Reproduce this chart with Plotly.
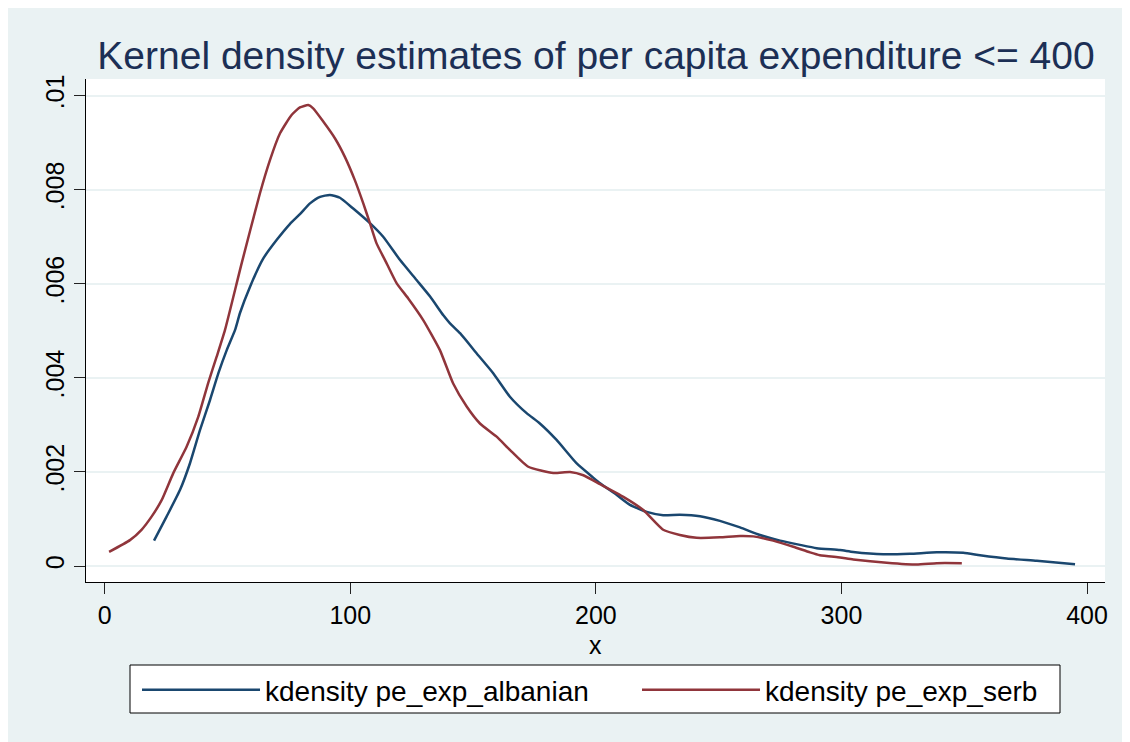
import plotly.graph_objects as go

# Albanian per-capita expenditure kernel density
alb_x = [20.1, 25.2, 30.7, 34.7, 38.8, 42.9, 46.3, 49.7, 53.1, 55.1, 59.2, 64.6, 70.0, 75.4,
         79.5, 83.6, 87.7, 91.7, 95.8, 101.2, 108.0, 113.4, 120.2, 127.0, 132.5, 137.9, 140.6,
         144.7, 151.5, 158.2, 165.0, 171.8, 177.2, 184.0, 192.2, 198.9, 201.7, 208.5, 213.9,
         220.7, 227.4, 234.2, 242.4, 250.5, 258.7, 266.8, 275.0, 283.1, 289.9, 299.4, 304.8,
         317.0, 327.9, 338.8, 349.6, 356.4, 367.3, 379.5, 395.1]
alb_y = [0.00054, 0.00105, 0.00162, 0.00218, 0.00289, 0.00353, 0.00410, 0.00459, 0.00502,
         0.00538, 0.00594, 0.00654, 0.00693, 0.00727, 0.00748, 0.00771, 0.00785, 0.00789,
         0.00783, 0.00760, 0.00729, 0.00700, 0.00651, 0.00608, 0.00573, 0.00533, 0.00516,
         0.00495, 0.00452, 0.00410, 0.00360, 0.00325, 0.00303, 0.00268, 0.00218, 0.00188,
         0.00176, 0.00151, 0.00130, 0.00115, 0.00108, 0.00109, 0.00106, 0.00096, 0.00082,
         0.00066, 0.00054, 0.00045, 0.00038, 0.00034, 0.00030, 0.00025, 0.00026, 0.00029,
         0.00028, 0.00023, 0.00016, 0.00011, 0.00004]

# Serb per-capita expenditure kernel density
srb_x = [1.8, 10.3, 15.0, 19.1, 23.2, 27.9, 33.4, 38.1, 42.2, 45.6, 49.0, 55.8, 63.2, 67.3,
         71.4, 76.1, 79.5, 82.9, 84.9, 89.0, 93.8, 97.8, 101.9, 105.3, 108.0, 110.7, 114.1,
         118.9, 123.6, 129.7, 136.5, 141.9, 147.4, 152.8, 159.6, 165.0, 172.5, 182.7, 189.5,
         194.9, 201.7, 211.2, 219.3, 227.4, 234.2, 241.0, 250.5, 258.7, 264.1, 272.2, 280.4,
         287.2, 291.2, 299.4, 304.8, 318.4, 330.6, 338.8, 349.0]
srb_y = [0.00030, 0.00055, 0.00077, 0.00105, 0.00140, 0.00197, 0.00254, 0.00317, 0.00390,
         0.00445, 0.00502, 0.00644, 0.00792, 0.00863, 0.00920, 0.00959, 0.00975, 0.00980,
         0.00973, 0.00945, 0.00909, 0.00870, 0.00820, 0.00771, 0.00729, 0.00686, 0.00651,
         0.00601, 0.00569, 0.00523, 0.00459, 0.00388, 0.00339, 0.00303, 0.00275, 0.00247,
         0.00211, 0.00198, 0.00200, 0.00193, 0.00174, 0.00147, 0.00119, 0.00077, 0.00066,
         0.00060, 0.00061, 0.00064, 0.00063, 0.00054, 0.00041, 0.00029, 0.00023, 0.00018,
         0.00014, 0.00007, 0.00003, 0.00006, 0.00006]

x_ticks = [0, 100, 200, 300, 400]
y_ticks = [0, 0.002, 0.004, 0.006, 0.008, 0.01]
y_tick_labels = ["0", ".002", ".004", ".006", ".008", ".01"]
x_title = "x"

BG = "#EAF2F3"
FONT = "Arial, Liberation Sans, sans-serif"

fig = go.Figure()
fig.add_trace(go.Scatter(x=alb_x, y=alb_y, mode="lines", name="kdensity pe_exp_albanian",
                         line=dict(color="#1A476F", width=2.5, shape="spline", smoothing=0.5),
                         legend="legend"))
fig.add_trace(go.Scatter(x=srb_x, y=srb_y, mode="lines", name="kdensity pe_exp_serb",
                         line=dict(color="#90353B", width=2.5, shape="spline", smoothing=0.5),
                         legend="legend2"))

# page body has an 8px margin, so figure coords = screen coords - 8
W, H = 1122, 734
L, T = 78, 71
R = W - (1105 - 8)
B = H - (582 - 8)
pw, ph = W - L - R, H - T - B


def px(xf):
    return (xf - L) / pw


def py(yf):
    return (H - B - yf) / ph


legend_common = dict(orientation="h", xanchor="left", yanchor="top",
                     bgcolor="rgba(0,0,0,0)", borderwidth=0,
                     font=dict(size=28, family=FONT, color="black"), itemwidth=118)

fig.update_layout(
    width=W, height=H,
    showlegend=True,
    margin=dict(l=L, r=R, t=T, b=B, pad=0, autoexpand=False),
    paper_bgcolor=BG,
    plot_bgcolor="white",
    font=dict(family=FONT, color="black"),
    title=dict(text="Kernel density estimates of per capita expenditure <= 400",
               x=(596 - 8) / W, xanchor="center", y=1 - (55 - 8) / H, yanchor="middle",
               yref="container", xref="container",
               font=dict(size=39, color="#1C2F55", family=FONT)),
    xaxis=dict(range=[-7.6, 407.3], tickvals=x_ticks, ticks="outside", ticklen=11,
               tickcolor="#222", tickwidth=1, showline=True, linecolor="black", linewidth=1,
               showgrid=False, zeroline=False, tickfont=dict(size=25)),
    yaxis=dict(range=[-0.00034, 0.010355], tickvals=y_ticks, ticktext=y_tick_labels,
               ticks="outside", ticklen=11, tickcolor="#222", tickwidth=1, tickangle=-90,
               showline=True, linecolor="black", linewidth=1,
               showgrid=True, gridcolor=BG, gridwidth=2, zeroline=False,
               tickfont=dict(size=25)),
    legend=dict(x=px(137 - 8), y=py(665 - 8), **legend_common),
    legend2=dict(x=px(637 - 8), y=py(665 - 8), **legend_common),
    annotations=[dict(text=x_title, xref="paper", yref="paper", x=px(595 - 8), y=py(645 - 8),
                      xanchor="center", yanchor="middle", showarrow=False, borderpad=0,
                      font=dict(size=25, family=FONT, color="black"))],
    shapes=[dict(type="rect", xref="paper", yref="paper", layer="below",
                 x0=px(130 - 8), x1=px(1060 - 8), y0=py(713 - 8), y1=py(665 - 8),
                 fillcolor="white", line=dict(width=1, color="black"))],
)

fig.write_html("out.html")
